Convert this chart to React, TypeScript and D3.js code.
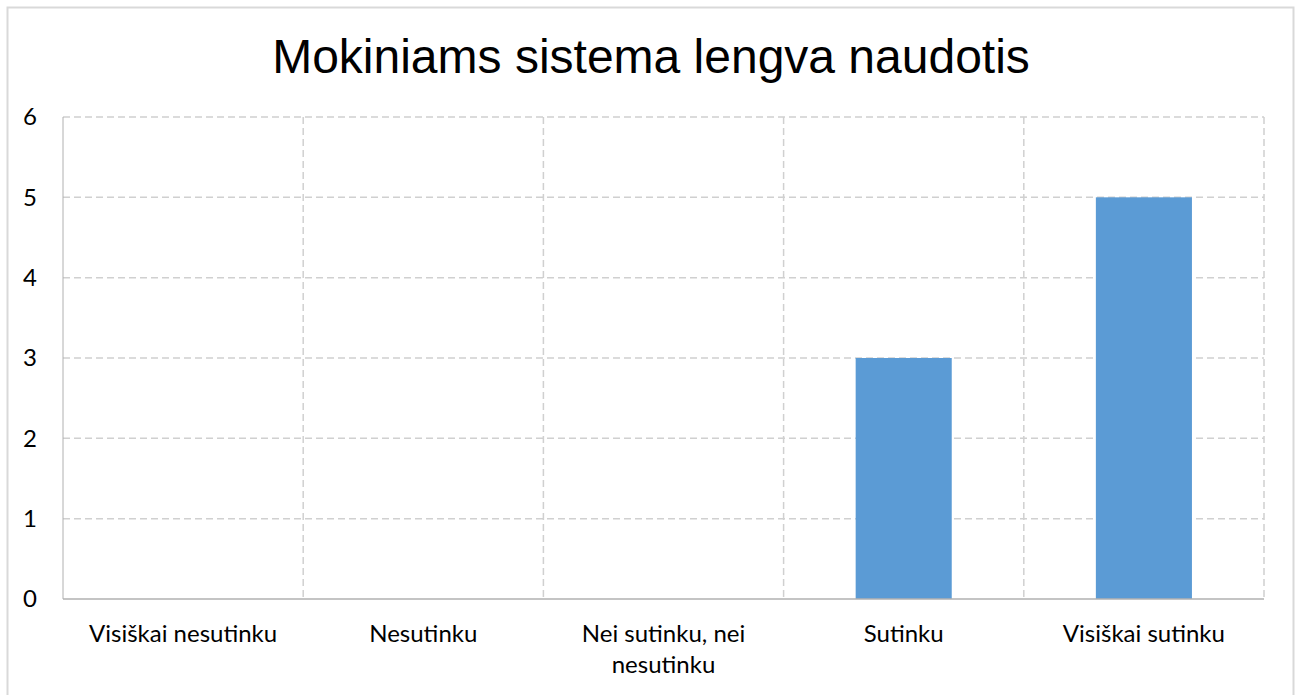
import React from 'react'
import * as d3 from 'd3'

const title = 'Mokiniams sistema lengva naudotis'
const categories = ['Visiškai nesutinku', 'Nesutinku', 'Nei sutinku, nei nesutinku', 'Sutinku', 'Visiškai sutinku']
const labelLines = [['Visiškai nesutinku'], ['Nesutinku'], ['Nei sutinku, nei', 'nesutinku'], ['Sutinku'], ['Visiškai sutinku']]
const values = [0, 0, 0, 3, 5]
const yTicks = [0, 1, 2, 3, 4, 5, 6]

const width = 1301
const height = 695
const plot = { left: 63, right: 1264, top: 117, bottom: 599 }
const labelFont = 'Lato, "Open Sans", sans-serif'

const App = () => {
  const x = d3.scaleBand<string>().domain(categories).range([plot.left, plot.right]).padding(0)
  const y = d3.scaleLinear().domain([0, 6]).range([plot.bottom, plot.top])
  const barW = x.bandwidth() * 0.4
  const grid = '#d0d0d0'

  return (
    <svg width={width} height={height} style={{ position: 'absolute', left: 0, top: 0, background: '#fff' }}>
      <rect x={7.5} y={7.5} width={1286} height={700} fill="#fff" stroke="#d9d9d9" strokeWidth={2} />
      <text x={651} y={73} textAnchor="middle" fontFamily='"Liberation Sans", Arial, sans-serif' fontSize={48} fill="#000">
        {title}
      </text>

      {yTicks.filter((t) => t > 0).map((t) => (
        <line key={'h' + t} x1={plot.left} x2={plot.right} y1={y(t)} y2={y(t)} stroke={grid} strokeWidth={1.5} strokeDasharray="7,4" />
      ))}
      {categories.map((c) => (
        <line key={'v' + c} x1={x(c)! + x.bandwidth()} x2={x(c)! + x.bandwidth()} y1={plot.top} y2={plot.bottom} stroke={grid} strokeWidth={1.5} strokeDasharray="7,4" />
      ))}

      {categories.map((c, i) => (
        values[i] > 0 ? (
          <rect key={'b' + c} x={x(c)! + (x.bandwidth() - barW) / 2} y={y(values[i])} width={barW} height={y(0) - y(values[i])} fill="#5b9bd5" />
        ) : null
      ))}

      <line x1={plot.left} x2={plot.left} y1={plot.top} y2={plot.bottom} stroke="#b0b0b0" strokeWidth={1} />
      <line x1={plot.left} x2={plot.right} y1={plot.bottom} y2={plot.bottom} stroke="#b0b0b0" strokeWidth={1.5} />

      {yTicks.map((t) => (
        <text key={'t' + t} x={37} y={y(t)} dy="0.35em" textAnchor="end" fontFamily={labelFont} fontSize={24} fill="#000">
          {t}
        </text>
      ))}

      {categories.map((c, i) => (
        <text key={'l' + c} x={x(c)! + x.bandwidth() / 2} y={642} textAnchor="middle" fontFamily={labelFont} fontSize={24} fill="#000">
          {labelLines[i].map((ln, j) => (
            <tspan key={j} x={x(c)! + x.bandwidth() / 2} dy={j === 0 ? 0 : 31}>{ln}</tspan>
          ))}
        </text>
      ))}
    </svg>
  )
}

export default App
